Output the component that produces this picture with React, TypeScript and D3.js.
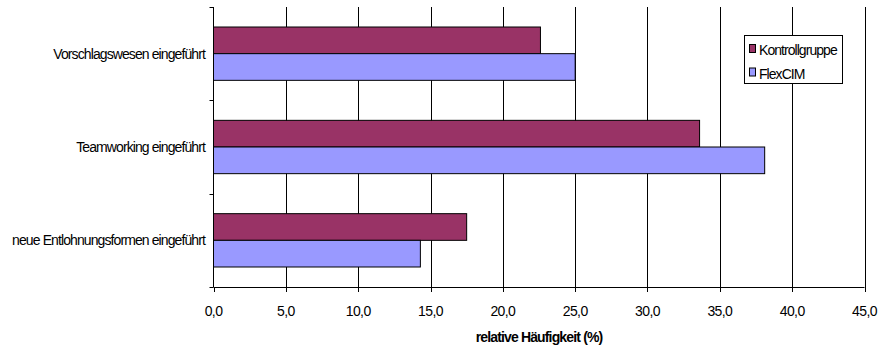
import React from "react";
import * as d3 from "d3";

const categories = [
  "Vorschlagswesen eingeführt",
  "Teamworking eingeführt",
  "neue Entlohnungsformen eingeführt",
];
const seriesNames = ["Kontrollgruppe", "FlexCIM"];
const kontrollgruppe = [22.6, 33.6, 17.5];
const flexcim = [25.0, 38.1, 14.3];
const xTicks = [0, 5, 10, 15, 20, 25, 30, 35, 40, 45];
const xTitle = "relative Häufigkeit (%)";

const colors = ["#993366", "#9999FF"];
const W = 882;
const H = 350;
const FONT = "'Liberation Sans', Arial, sans-serif";

export default function App() {
  const x = d3.scaleLinear().domain([0, 45]).range([213.5, 864.5]);
  const y = d3
    .scaleBand<string>()
    .domain(categories)
    .range([7, 287])
    .paddingInner(0.4286)
    .paddingOuter(0.2143);
  const inner = d3
    .scaleBand<number>()
    .domain([0, 1])
    .range([0, y.bandwidth()]);
  const series = [kontrollgruppe, flexcim];
  const fmt = (v: number) => v.toFixed(1).replace(".", ",");
  const step = y.step();
  const catEdges = d3.range(categories.length + 1).map((i) => 7 + i * step);
  const plotTop = 7;
  const plotBottom = 287;

  return (
    <svg
      width={W}
      height={H}
      style={{ position: "absolute", left: 0, top: 0, background: "#fff" }}
      fontFamily={FONT}
    >
      {/* vertical gridlines */}
      {xTicks.slice(1).map((t) => (
        <line
          key={"g" + t}
          x1={Math.round(x(t)) + 0.5}
          x2={Math.round(x(t)) + 0.5}
          y1={plotTop}
          y2={plotBottom}
          stroke="#000"
          strokeWidth={1}
        />
      ))}

      {/* bars */}
      {series.map((vals, si) =>
        vals.map((v, ci) => {
          const y0 = (y(categories[ci]) as number) + (inner(si) as number);
          return (
            <rect
              key={`b${si}-${ci}`}
              x={x(0)}
              y={y0}
              width={x(v) - x(0)}
              height={inner.bandwidth()}
              fill={colors[si]}
              stroke="#000"
              strokeWidth={1}
            />
          );
        })
      )}

      {/* y axis */}
      <line x1={x(0)} x2={x(0)} y1={plotTop} y2={plotBottom} stroke="#000" />
      {catEdges.map((e, i) => (
        <line key={"yt" + i} x1={x(0) - 4} x2={x(0)} y1={Math.round(e) + 0.5} y2={Math.round(e) + 0.5} stroke="#000" />
      ))}
      {categories.map((c) => (
        <text
          key={c}
          x={205}
          y={(y(c) as number) + y.bandwidth() / 2}
          dy="0.36em"
          textAnchor="end"
          fontSize={14}
          letterSpacing={-0.9}
          fill="#000"
        >
          {c}
        </text>
      ))}

      {/* x axis */}
      <line x1={x(0)} x2={x(45)} y1={plotBottom + 0.5} y2={plotBottom + 0.5} stroke="#000" />
      {xTicks.map((t) => (
        <g key={"xt" + t}>
          <line
            x1={Math.round(x(t)) + 0.5}
            x2={Math.round(x(t)) + 0.5}
            y1={plotBottom}
            y2={plotBottom + 5}
            stroke="#000"
          />
          <text
            x={x(t)}
            y={316}
            textAnchor="middle"
            fontSize={14}
            letterSpacing={-0.6}
            fill="#000"
          >
            {fmt(t)}
          </text>
        </g>
      ))}
      <text
        x={539}
        y={342}
        textAnchor="middle"
        fontSize={14}
        fontWeight="bold"
        letterSpacing={-0.85}
        fill="#000"
      >
        {xTitle}
      </text>

      {/* legend */}
      <rect x={744.5} y={35.5} width={98} height={48} fill="#fff" stroke="#000" />
      {seriesNames.map((n, i) => (
        <g key={n}>
          <rect
            x={749.5}
            y={44.5 + i * 23.5}
            width={6}
            height={8}
            fill={colors[i]}
            stroke="#000"
          />
          <text x={759} y={55 + i * 23.5} fontSize={14} letterSpacing={-0.95} fill="#000">
            {n}
          </text>
        </g>
      ))}
    </svg>
  );
}
